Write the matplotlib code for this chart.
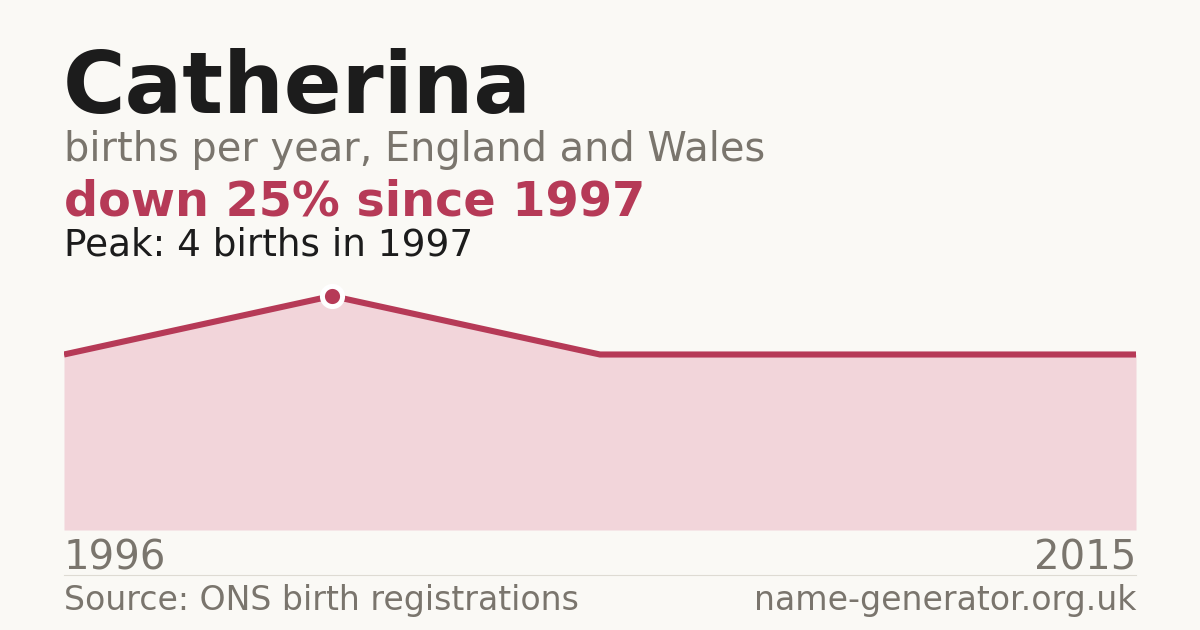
import matplotlib
matplotlib.use("Agg")
import matplotlib.pyplot as plt

# data
years = [1996, 1997, 1998, 2003, 2015]
births = [3, 4, 3, 3, 3]
name = "Catherina"
subtitle = "births per year, England and Wales"
headline = "down 25% since 1997"
peak_text = "Peak: 4 births in 1997"
source = "Source: ONS birth registrations"
site = "name-generator.org.uk"

BG = "#faf9f5"
RED = "#b63a57"
FILL = "#f2d5da"
GRAY = "#7a756d"
DARK = "#1c1c1c"

W, H = 1200, 630
fig = plt.figure(figsize=(12, 6.3), dpi=100)
fig.patch.set_facecolor(BG)

def fx(px):
    return px / W

def fy(py):
    return 1 - py / H

left, right, bottom, top = 64, 1136, 530, 280
ax = fig.add_axes([fx(left), fy(bottom), fx(right - left), (bottom - top) / H])
ax.set_facecolor(BG)
xs = list(range(len(years)))
ax.fill_between(xs, births, 0, color=FILL, lw=0)
ax.plot(xs, births, color=RED, lw=4.4, solid_joinstyle="miter", solid_capstyle="butt")
pk = births.index(max(births))
ax.plot([xs[pk]], [births[pk]], "o", color=RED, ms=14.5, mec="white", mew=3.6, zorder=5)
ax.set_xlim(0, len(years) - 1)
ax.set_ylim(0, (bottom - top) / 58.5)
ax.axis("off")

fig.text(fx(63), fy(113), name, fontsize=61.5, fontweight="bold", color=DARK, va="baseline", ha="left")
fig.text(fx(64), fy(161), subtitle, fontsize=28.7, color=GRAY, va="baseline", ha="left")
fig.text(fx(64), fy(215), headline, fontsize=34.4, fontweight="bold", color=RED, va="baseline", ha="left")
fig.text(fx(64), fy(255), peak_text, fontsize=26.9, color=DARK, va="baseline", ha="left")

fig.text(fx(64), fy(569), str(years[0]), fontsize=28.9, color=GRAY, va="baseline", ha="left")
fig.text(fx(1136), fy(569), str(years[-1]), fontsize=28.9, color=GRAY, va="baseline", ha="right")

fig.add_artist(plt.Line2D([fx(64), fx(1136)], [fy(574.5), fy(574.5)], color="#dedbd3", lw=0.8))

fig.text(fx(64), fy(610), source, fontsize=23.9, color=GRAY, va="baseline", ha="left")
fig.text(fx(1136), fy(610), site, fontsize=23.9, color=GRAY, va="baseline", ha="right")

fig.savefig("out.png", dpi=100, facecolor=BG)
